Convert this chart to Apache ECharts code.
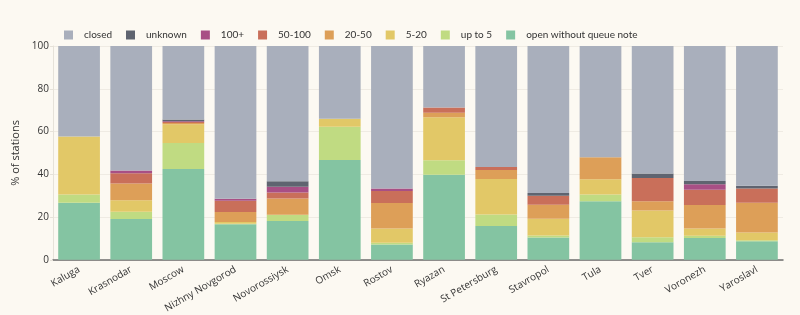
<!DOCTYPE html>
<html>
<head>
<meta charset="utf-8">
<script src="https://cdn.jsdelivr.net/npm/echarts@6/dist/echarts.min.js"></script>
<style>
  html, body { margin: 0; padding: 0; background: #fcf9f2; }
  #chart { width: 800px; height: 315px; }
</style>
</head>
<body>
<div id="chart"></div>
<script>
// cities along the x axis
var cities = ['Kaluga', 'Krasnodar', 'Moscow', 'Nizhny Novgorod', 'Novorossiysk', 'Omsk', 'Rostov',
  'Ryazan', 'St Petersburg', 'Stavropol', 'Tula', 'Tver', 'Voronezh', 'Yaroslavl'];

// % of stations per queue bucket (stacked bottom to top)
var openNoQueue = [26.7, 19.1, 42.5, 16.6, 18.1, 46.7, 7.1, 39.8, 15.8, 10.4, 27.4, 8.2, 10.2, 8.7];
var upTo5 =       [3.8, 3.4, 12.1, 0.3, 2.8, 15.5, 0.8, 6.7, 5.4, 0.9, 3.1, 2.3, 1.0, 0.4];
var q5to20 =      [27.2, 5.3, 8.8, 0.8, 0.2, 3.8, 6.7, 20.2, 16.6, 7.9, 7.2, 12.6, 3.4, 3.6];
var q20to50 =     [0, 7.9, 0.6, 4.6, 7.6, 0, 11.9, 2.1, 4.2, 6.5, 10.2, 4.3, 11.0, 14.0];
var q50to100 =    [0, 4.8, 0.5, 5.3, 2.8, 0, 5.7, 2.4, 1.4, 4.2, 0, 10.9, 7.1, 6.6];
var q100plus =    [0, 1.2, 0.3, 0.9, 2.6, 0, 1.1, 0, 0, 0, 0, 0, 2.6, 0];
var unknownPct =  [0, 0, 0.8, 0, 2.6, 0, 0, 0, 0, 1.3, 0, 2.0, 1.6, 1.3];
var closedPct =   [42.3, 58.3, 34.4, 71.5, 63.3, 34.0, 66.7, 28.8, 56.6, 68.8, 52.1, 59.7, 63.1, 65.4];

var yTicks = [0, 20, 40, 60, 80, 100];

var seriesDefs = [
  ['open without queue note', openNoQueue, '#84c4a2'],
  ['up to 5', upTo5, '#c0db82'],
  ['5-20', q5to20, '#e2c867'],
  ['20-50', q20to50, '#dd9f58'],
  ['50-100', q50to100, '#c96f5a'],
  ['100+', q100plus, '#a84f85'],
  ['unknown', unknownPct, '#5f6470'],
  ['closed', closedPct, '#a9afbc']
];

var font = 'Open Sans, Noto Sans, sans-serif';
var chart = echarts.init(document.getElementById('chart'));
chart.setOption({
  backgroundColor: '#fcf9f2',
  animation: false,
  textStyle: { fontFamily: font },
  legend: {
    top: 25,
    left: 59,
    itemWidth: 9,
    itemHeight: 9,
    itemGap: 14,
    icon: 'rect',
    data: ['closed', 'unknown', '100+', '50-100', '20-50', '5-20', 'up to 5', 'open without queue note'],
    textStyle: { fontSize: 10, color: '#333', fontFamily: 'Lato, sans-serif', padding: [0, 0, 0, 6] }
  },
  grid: { left: 53, right: 17, top: 46, bottom: 54 },
  xAxis: {
    type: 'category',
    data: cities,
    axisLine: { lineStyle: { color: '#6e6e6e', width: 1.5 } },
    axisTick: { show: false },
    axisLabel: { rotate: 30, fontSize: 10, color: '#333', interval: 0, margin: 9 }
  },
  yAxis: {
    type: 'value',
    min: yTicks[0],
    max: yTicks[yTicks.length - 1],
    interval: 20,
    name: '% of stations',
    nameLocation: 'middle',
    nameGap: 26,
    nameTextStyle: { fontSize: 11, color: '#333' },
    axisLine: { show: true, lineStyle: { color: '#e6e2d9' } },
    axisTick: { show: true, length: 3, lineStyle: { color: '#e6e2d9' } },
    axisLabel: { fontSize: 10, color: '#333', margin: 4 },
    splitLine: { lineStyle: { color: '#efebe3' } }
  },
  series: seriesDefs.map(function (d) {
    return {
      name: d[0],
      type: 'bar',
      stack: 'total',
      data: d[1],
      barCategoryGap: '20%',
      itemStyle: { color: d[2] },
      emphasis: { disabled: true }
    };
  })
});
</script>
</body>
</html>
